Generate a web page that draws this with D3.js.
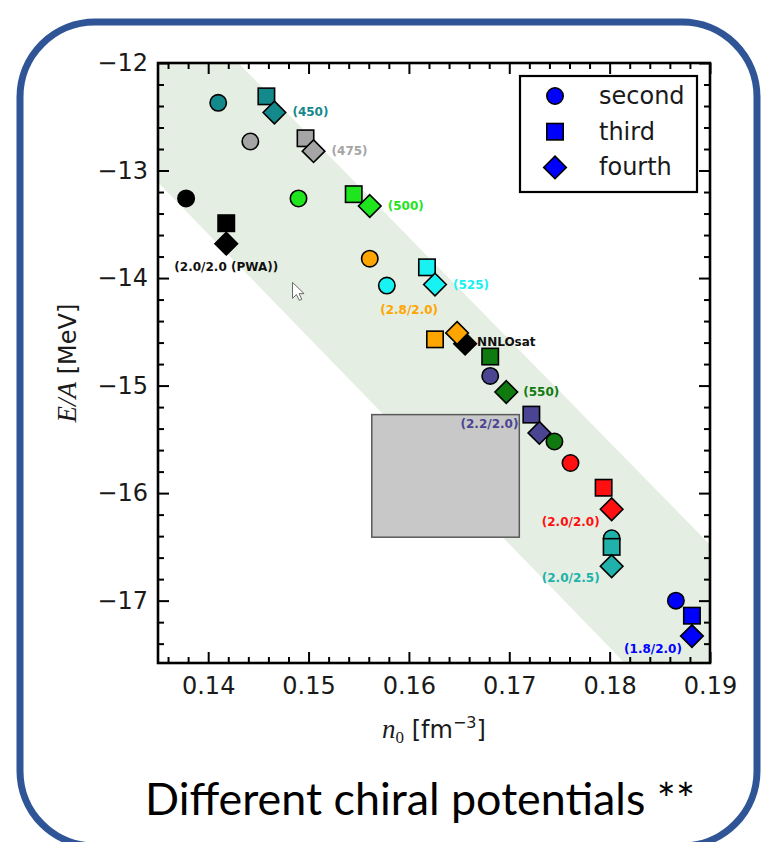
<!DOCTYPE html>
<html>
<head>
<meta charset="utf-8">
<script src="https://cdn.jsdelivr.net/npm/d3@7"></script>
<style>
  html, body { margin: 0; padding: 0; background: #ffffff; }
  svg { display: block; }
</style>
</head>
<body>
<svg id="chart" width="763" height="842"></svg>
<script>
// ---- Saturation points of nuclear matter for different chiral potentials ----
const potentials = ["(450)", "(475)", "(500)", "(525)", "(550)", "(2.0/2.0 (PWA))",
                    "(2.8/2.0)", "(2.2/2.0)", "(2.0/2.0)", "(2.0/2.5)", "(1.8/2.0)"];
const colors = ["#14898b", "#a5a5a5", "#1fe51f", "#18f2f2", "#0f7a0f", "#000000",
                "#ffa500", "#4a4592", "#ff0f0f", "#20b2aa", "#0000ff"];

// second order (circles)
const secondN = [0.1410, 0.1442, 0.1490, 0.1578, 0.1745, 0.1378, 0.1561, 0.1681, 0.1761, 0.1802, 0.1866];
const secondE = [-12.37, -12.73, -13.26, -14.07, -15.52, -13.26, -13.82, -14.91, -15.72, -16.42, -17.00];
// third order (squares)
const thirdN = [0.1458, 0.1497, 0.1545, 0.1618, 0.1681, 0.1418, 0.1626, 0.1722, 0.1794, 0.1802, 0.1882];
const thirdE = [-12.31, -12.70, -13.22, -13.90, -14.73, -13.49, -14.57, -15.27, -15.95, -16.50, -17.14];
// fourth order (diamonds)
const fourthN = [0.1466, 0.1505, 0.1561, 0.1626, 0.1697, 0.1418, 0.1648, 0.1730, 0.1802, 0.1802, 0.1882];
const fourthE = [-12.46, -12.82, -13.33, -14.06, -15.06, -13.68, -14.51, -15.44, -16.15, -16.68, -17.33];

// NNLOsat
const nnloN = [0.1656];
const nnloE = [-14.61];

// empirical saturation region
const boxN = [0.1563, 0.1710];
const boxE = [-15.27, -16.41];

// Coester-like band
const bandN = [0.135, 0.1430, 0.190, 0.190, 0.1815, 0.135];
const bandE = [-12.0, -12.0, -16.48, -17.58, -17.58, -13.11];

// axes
const xTicks = [0.14, 0.15, 0.16, 0.17, 0.18, 0.19];
const yTicks = [-12, -13, -14, -15, -16, -17];
const legendNames = ["second", "third", "fourth"];

// ---- layout ----
const svg = d3.select("#chart");
const plot = { left: 158, right: 710, top: 63, bottom: 663 };
const x = d3.scaleLinear().domain([0.135, 0.19]).range([plot.left, plot.right]);
const y = d3.scaleLinear().domain([-12, -17.58]).range([plot.top, plot.bottom]);

// label placement relative to the fourth-order marker [dx, dy, anchor]
const labelPos = [[18, 0, "start"], [18, 0, "start"], [18, 0, "start"], [18, 0, "start"],
                  [17, 0, "start"], [0, 23, "middle"], [-19, -23, "end"], [-21, -9, "end"],
                  [-12, 13, "end"], [-12, 12, "end"], [-10, 13, "end"]];

const sansFont = "'DejaVu Sans', sans-serif";

// rounded frame around everything
svg.append("rect")
  .attr("x", 20).attr("y", 22).attr("width", 737).attr("height", 824)
  .attr("rx", 75).attr("ry", 75)
  .attr("fill", "none").attr("stroke", "#2f5597").attr("stroke-width", 7);

svg.append("defs").append("clipPath").attr("id", "plotClip")
  .append("rect").attr("x", plot.left).attr("y", plot.top)
  .attr("width", plot.right - plot.left).attr("height", plot.bottom - plot.top);

const inner = svg.append("g").attr("clip-path", "url(#plotClip)");

// band
inner.append("path")
  .attr("d", d3.line()(bandN.map((n, i) => [x(n), y(bandE[i])])) + "Z")
  .attr("fill", "#e5eee2");

// empirical box
inner.append("rect")
  .attr("x", x(boxN[0])).attr("y", y(boxE[0]))
  .attr("width", x(boxN[1]) - x(boxN[0])).attr("height", y(boxE[1]) - y(boxE[0]))
  .attr("fill", "#c8c8c8").attr("stroke", "#5a5a5a").attr("stroke-width", 1.5);

// pointer cursor
const cur = svg.append("path")
  .attr("d", "M0,0 L0,16 L4,12.3 L6.8,18 L9.3,16.9 L6.6,11.3 L11.6,11.3 Z")
  .attr("transform", `translate(${x(0.1484)},${y(-14.04)})`)
  .attr("fill", "#ffffff").attr("stroke", "#6a6a6a").attr("stroke-width", 1);

// marker shapes
const R = 8.2, S = 16.4, D = 11.3;
function drawCircle(g, cx, cy, color) {
  g.append("circle").attr("cx", cx).attr("cy", cy).attr("r", R)
    .attr("fill", color).attr("stroke", "#000").attr("stroke-width", 1.6);
}
function drawSquare(g, cx, cy, color) {
  g.append("rect").attr("x", cx - S / 2).attr("y", cy - S / 2).attr("width", S).attr("height", S)
    .attr("fill", color).attr("stroke", "#000").attr("stroke-width", 1.6);
}
function drawDiamond(g, cx, cy, color) {
  g.append("path").attr("d", `M${cx},${cy - D} L${cx + D},${cy} L${cx},${cy + D} L${cx - D},${cy} Z`)
    .attr("fill", color).attr("stroke", "#000").attr("stroke-width", 1.6);
}

const marks = svg.append("g");
// NNLOsat sits underneath the other markers
nnloN.forEach((n, i) => drawDiamond(marks, x(n), y(nnloE[i]), "#000000"));
marks.append("text")
  .attr("x", x(nnloN[0]) + 12).attr("y", y(nnloE[0]) - 2)
  .attr("dominant-baseline", "central")
  .attr("font-family", sansFont).attr("font-weight", "bold").attr("font-size", 12)
  .attr("fill", "#111").text("NNLOsat");

potentials.forEach((p, i) => {
  drawCircle(marks, x(secondN[i]), y(secondE[i]), colors[i]);
  drawSquare(marks, x(thirdN[i]), y(thirdE[i]), colors[i]);
  drawDiamond(marks, x(fourthN[i]), y(fourthE[i]), colors[i]);
});

// potential labels
svg.append("g").selectAll("text").data(potentials).join("text")
  .attr("x", (d, i) => x(fourthN[i]) + labelPos[i][0])
  .attr("y", (d, i) => y(fourthE[i]) + labelPos[i][1])
  .attr("text-anchor", (d, i) => labelPos[i][2])
  .attr("dominant-baseline", "central")
  .attr("font-family", sansFont).attr("font-weight", "bold").attr("font-size", 12)
  .attr("fill", (d, i) => colors[i] === "#000000" ? "#111" : colors[i])
  .text(d => d);

// ---- axes ----
const fmt = d3.format(".2f");
const minorX = d3.range(0.136, 0.1899, 0.002).filter(v => !xTicks.some(t => Math.abs(t - v) < 1e-6));
const minorY = d3.range(-12.2, -17.59, -0.2).filter(v => !yTicks.some(t => Math.abs(t - v) < 1e-6));

function styleAxis(g) {
  g.select(".domain").remove();
  g.selectAll("line").attr("stroke", "#000").attr("stroke-width", 2);
  g.selectAll("text").attr("font-family", sansFont).attr("font-size", 24).attr("fill", "#1a1a1a");
}

svg.append("g").attr("transform", `translate(0,${plot.bottom})`)
  .call(d3.axisBottom(x).tickValues(xTicks).tickSize(-11).tickSizeOuter(0).tickPadding(14).tickFormat(fmt))
  .call(styleAxis);
svg.append("g").attr("transform", `translate(0,${plot.bottom})`)
  .call(d3.axisBottom(x).tickValues(minorX).tickSize(-6).tickSizeOuter(0).tickFormat(""))
  .call(styleAxis);
svg.append("g").attr("transform", `translate(0,${plot.top})`)
  .call(d3.axisTop(x).tickValues(xTicks).tickSize(-11).tickSizeOuter(0).tickFormat(""))
  .call(styleAxis);
svg.append("g").attr("transform", `translate(0,${plot.top})`)
  .call(d3.axisTop(x).tickValues(minorX).tickSize(-6).tickSizeOuter(0).tickFormat(""))
  .call(styleAxis);

svg.append("g").attr("transform", `translate(${plot.left},0)`)
  .call(d3.axisLeft(y).tickValues(yTicks).tickSize(-11).tickSizeOuter(0).tickPadding(10).tickFormat(d3.format("d")))
  .call(styleAxis);
svg.append("g").attr("transform", `translate(${plot.left},0)`)
  .call(d3.axisLeft(y).tickValues(minorY).tickSize(-6).tickSizeOuter(0).tickFormat(""))
  .call(styleAxis);
svg.append("g").attr("transform", `translate(${plot.right},0)`)
  .call(d3.axisRight(y).tickValues(yTicks).tickSize(-11).tickSizeOuter(0).tickFormat(""))
  .call(styleAxis);
svg.append("g").attr("transform", `translate(${plot.right},0)`)
  .call(d3.axisRight(y).tickValues(minorY).tickSize(-6).tickSizeOuter(0).tickFormat(""))
  .call(styleAxis);

// frame
svg.append("rect")
  .attr("x", plot.left).attr("y", plot.top)
  .attr("width", plot.right - plot.left).attr("height", plot.bottom - plot.top)
  .attr("fill", "none").attr("stroke", "#000").attr("stroke-width", 2.6);

// legend
const leg = svg.append("g");
leg.append("rect").attr("x", 520).attr("y", 76).attr("width", 177).attr("height", 116)
  .attr("fill", "#fff").attr("stroke", "#000").attr("stroke-width", 2.2);
const legDraw = [drawCircle, drawSquare, drawDiamond];
legendNames.forEach((name, i) => {
  const ly = 96 + i * 35.7;
  legDraw[i](leg, 555, ly, "#0000ff");
  leg.append("text").attr("x", 599).attr("y", ly).attr("dominant-baseline", "central")
    .attr("font-family", sansFont).attr("font-size", 24).attr("fill", "#1a1a1a").text(name);
});

// axis titles
const serifIt = "'Liberation Serif', 'DejaVu Serif', serif";
const xt = svg.append("text").attr("x", (plot.left + plot.right) / 2).attr("y", 738)
  .attr("text-anchor", "middle").attr("font-family", sansFont).attr("font-size", 24).attr("fill", "#1a1a1a");
xt.append("tspan").attr("font-family", serifIt).attr("font-style", "italic").attr("font-size", 27).text("n");
xt.append("tspan").attr("font-family", serifIt).attr("font-size", 17).attr("dy", 5).text("0");
xt.append("tspan").attr("dy", -5).text(" [fm");
xt.append("tspan").attr("font-size", 16).attr("dy", -10).text("−3");
xt.append("tspan").attr("dy", 10).text("]");

const yt = svg.append("text")
  .attr("transform", `translate(76,${(plot.top + plot.bottom) / 2}) rotate(-90)`)
  .attr("text-anchor", "middle").attr("font-family", sansFont).attr("font-size", 24).attr("fill", "#1a1a1a");
yt.append("tspan").attr("font-family", serifIt).attr("font-style", "italic").attr("font-size", 27).text("E/A");
yt.append("tspan").text(" [MeV]");

// caption
const cap = svg.append("text").attr("x", 420).attr("y", 815).attr("text-anchor", "middle")
  .attr("font-family", "Lato, 'Open Sans', sans-serif").attr("font-size", 40).attr("fill", "#000")
  .text("Different chiral potentials **");
const w40 = cap.node().getComputedTextLength();
cap.attr("font-size", 40 * 550 / w40);
</script>
</body>
</html>
